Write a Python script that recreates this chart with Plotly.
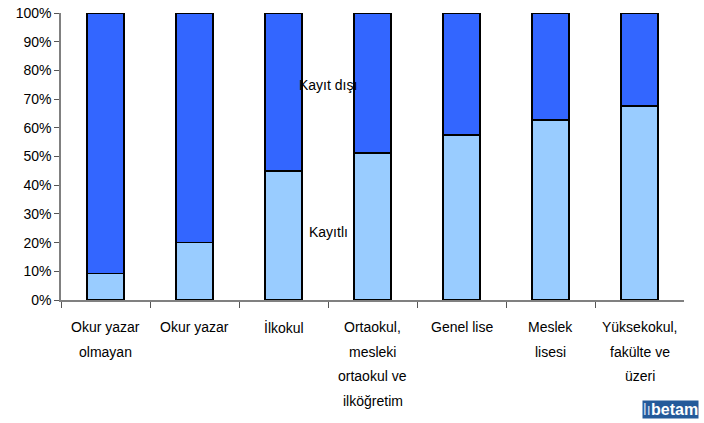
import plotly.graph_objects as go

categories = ["Okur yazar olmayan", "Okur yazar", "İlkokul",
              "Ortaokul, mesleki ortaokul ve ilköğretim", "Genel lise",
              "Meslek lisesi", "Yüksekokul, fakülte ve üzeri"]
label_lines = [["Okur yazar", "olmayan"], ["Okur yazar"], ["İlkokul"],
               ["Ortaokul,", "mesleki", "ortaokul ve", "ilköğretim"],
               ["Genel lise"], ["Meslek", "lisesi"],
               ["Yüksekokul,", "fakülte ve", "üzeri"]]
kayitli = [9.3, 20.0, 45.0, 51.2, 57.5, 62.7, 67.6]
kayit_disi = [100 - v for v in kayitli]
y_ticks = [0, 10, 20, 30, 40, 50, 60, 70, 80, 90, 100]

FONT = "Liberation Sans, Arial, sans-serif"
xs = list(range(len(categories)))

fig = go.Figure()
fig.add_bar(x=xs, y=kayitli, name="Kayıtlı", marker=dict(color="#99CCFF", line=dict(color="#000000", width=1.5)), width=0.42)
fig.add_bar(x=xs, y=kayit_disi, name="Kayıt dışı", marker=dict(color="#3366FF", line=dict(color="#000000", width=1.5)), width=0.42)

annotations = []
for i, lines in enumerate(label_lines):
    for j, line in enumerate(lines):
        annotations.append(dict(x=i, y=0, xref="x", yref="y", text=line, showarrow=False,
                                yanchor="middle", xanchor="center", yshift=-27 - 24.5 * j,
                                font=dict(family=FONT, size=14, color="#000000")))
annotations.append(dict(x=2.5, y=75, xref="x", yref="y", text="Kayıt dışı", showarrow=False,
                        font=dict(family=FONT, size=14, color="#000000")))
annotations.append(dict(x=2.5, y=23.7, xref="x", yref="y", text="Kayıtlı", showarrow=False,
                        font=dict(family=FONT, size=14, color="#000000")))
annotations.append(dict(x=1.0, y=0, xref="paper", yref="paper",
                        text="<span style='color:#c8d6ee'>lı</span><b>betam</b>", showarrow=False,
                        xanchor="right", yanchor="bottom", xshift=15, yshift=-119,
                        bgcolor="#245a9a", borderpad=0,
                        font=dict(family=FONT, size=16, color="#ffffff")))

fig.update_layout(
    barmode="stack",
    width=704, height=423,
    margin=dict(l=61, r=20, t=13, b=123, autoexpand=False),
    paper_bgcolor="white", plot_bgcolor="white",
    showlegend=False,
    hovermode=False,
    font=dict(family=FONT, size=14, color="#000000"),
    annotations=annotations,
    xaxis=dict(range=[-0.5, 6.5], tickmode="array", tickvals=[x + 0.5 for x in xs[:-1]] + [-0.5],
               ticktext=[""] * 7, ticks="outside", ticklen=6, tickcolor="#555555",
               showline=True, linecolor="#808080", linewidth=1.5, showgrid=False, zeroline=False,
               automargin=False),
    yaxis=dict(range=[0, 100], tickvals=y_ticks, ticktext=[f"{v}%" for v in y_ticks],
               ticks="outside", ticklen=5, tickcolor="#555555",
               showline=True, linecolor="#808080", linewidth=1.5, showgrid=False, zeroline=False,
               automargin=False,
               tickfont=dict(family=FONT, size=14, color="#000000")),
)

fig.write_html("out.html", config={"displayModeBar": False},
               post_script="document.body.style.margin='0px';")
